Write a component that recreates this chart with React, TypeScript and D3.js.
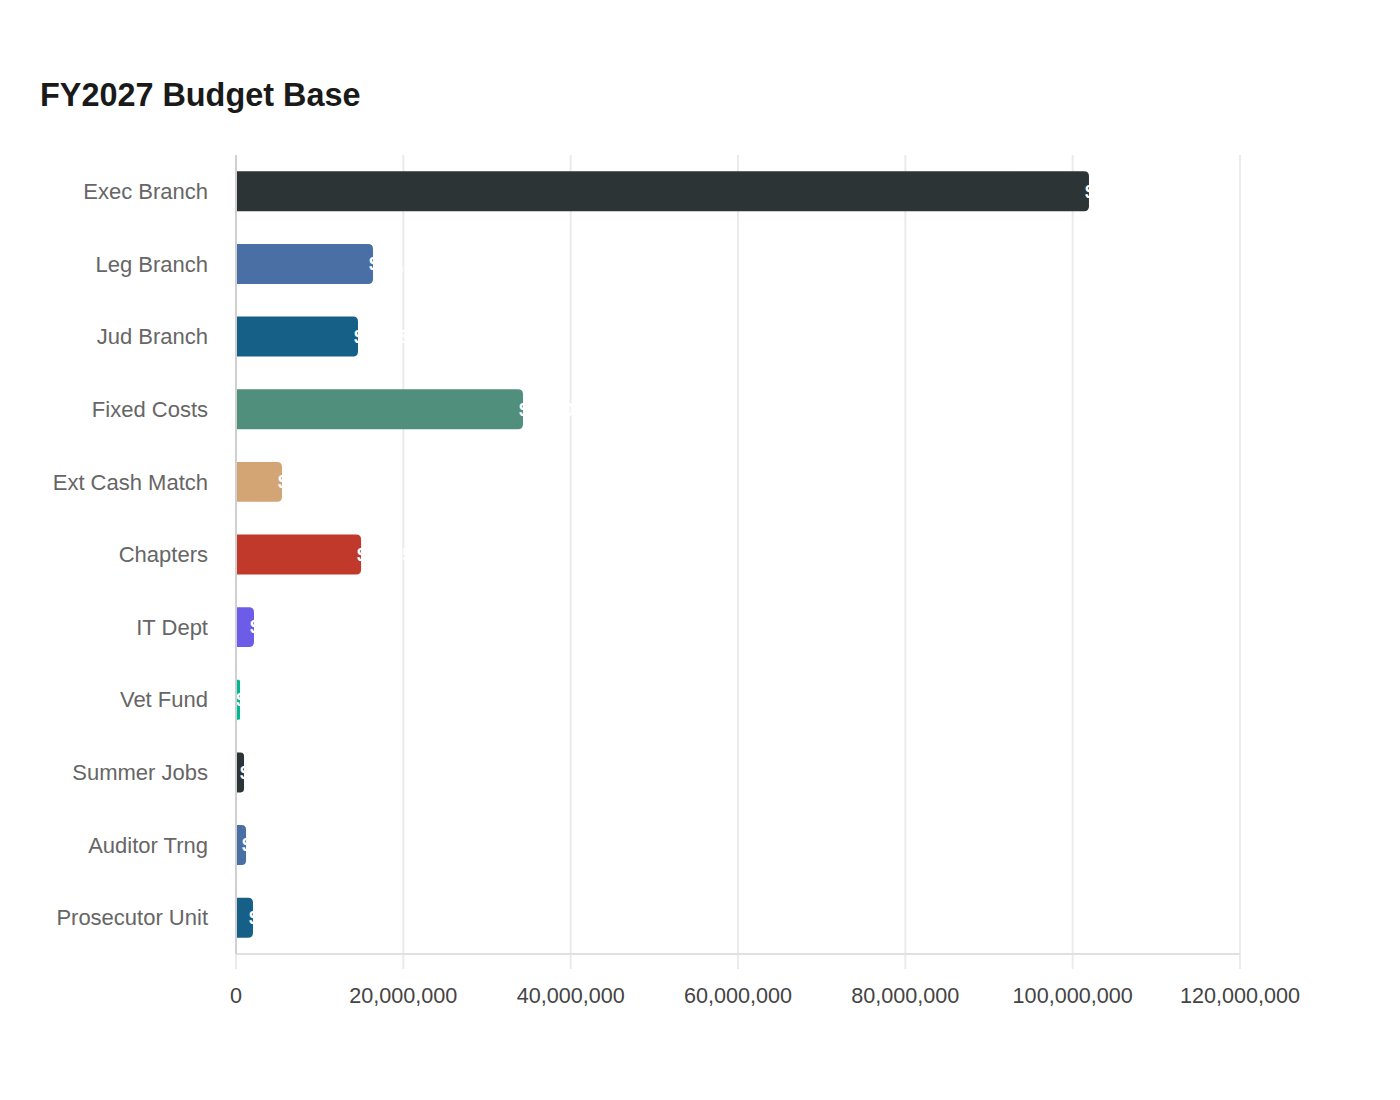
import * as d3 from "d3";
import React, { useEffect, useRef } from "react";

// budget lines, in dollars
const categories = [
  "Exec Branch",
  "Leg Branch",
  "Jud Branch",
  "Fixed Costs",
  "Ext Cash Match",
  "Chapters",
  "IT Dept",
  "Vet Fund",
  "Summer Jobs",
  "Auditor Trng",
  "Prosecutor Unit",
];
const amounts = [
  101950000, 16380000, 14580000, 34300000, 5500000, 14950000, 2150000, 480000,
  960000, 1200000, 2030000,
];
const palette = [
  "#2d3436",
  "#4a6fa5",
  "#166088",
  "#4f8f7c",
  "#d4a574",
  "#c0392b",
  "#6c5ce7",
  "#00b894",
];
const xTicks = [0, 20000000, 40000000, 60000000, 80000000, 100000000, 120000000];

const App = () => {
  const svgRef = useRef<SVGSVGElement>(null);

  useEffect(() => {
    const width = 1384;
    const height = 1084;
    const left = 228;
    const right = 1232;
    const top = 147;
    const bottom = 946;

    const svg = d3.select(svgRef.current).attr("width", width).attr("height", height);
    svg.selectAll("*").remove();

    const font = "'Liberation Sans', Arial, sans-serif";

    svg
      .append("text")
      .attr("x", 32)
      .attr("y", 98)
      .attr("font-family", font)
      .attr("font-size", 32.4)
      .attr("font-weight", "bold")
      .attr("fill", "#1a1a1a")
      .text("FY2027 Budget Base");

    const x = d3.scaleLinear().domain([0, 120000000]).range([left, right]);
    const y = d3.scaleBand().domain(categories).range([top, bottom]).paddingInner(0.45).paddingOuter(0.225);

    // vertical gridlines
    svg
      .append("g")
      .selectAll("line")
      .data(xTicks)
      .join("line")
      .attr("x1", (d) => x(d))
      .attr("x2", (d) => x(d))
      .attr("y1", top)
      .attr("y2", bottom + 15)
      .attr("stroke", "#ebebeb")
      .attr("stroke-width", 2);

    // bottom axis line
    svg
      .append("line")
      .attr("x1", left)
      .attr("x2", right)
      .attr("y1", bottom)
      .attr("y2", bottom)
      .attr("stroke", "#e0e0e0")
      .attr("stroke-width", 2);

    svg
      .append("g")
      .selectAll("text")
      .data(xTicks)
      .join("text")
      .attr("x", (d) => x(d))
      .attr("y", bottom + 49)
      .attr("text-anchor", "middle")
      .attr("font-family", font)
      .attr("font-size", 21.6)
      .attr("fill", "#444")
      .text((d) => d3.format(",")(d));

    // bars with rounded right end
    const r = 5;
    const barPath = (x0: number, x1: number, y0: number, h: number) => {
      const w = x1 - x0;
      const rr = Math.min(r, w / 2, h / 2);
      return `M${x0},${y0}H${x1 - rr}Q${x1},${y0} ${x1},${y0 + rr}V${y0 + h - rr}Q${x1},${y0 + h} ${x1 - rr},${y0 + h}H${x0}Z`;
    };

    const rows = categories.map((c, i) => ({ c, v: amounts[i], color: palette[i % palette.length] }));

    svg
      .append("g")
      .selectAll("path")
      .data(rows)
      .join("path")
      .attr("d", (d) => barPath(x(0) + 1, x(d.v), y(d.c)!, y.bandwidth()))
      .attr("fill", (d) => d.color);

    // value labels (white, mostly falls off the bar)
    svg
      .append("g")
      .selectAll("text")
      .data(rows)
      .join("text")
      .attr("x", (d) => x(d.v) - 4)
      .attr("y", (d) => y(d.c)! + y.bandwidth() / 2)
      .attr("dy", "0.35em")
      .attr("font-family", font)
      .attr("font-size", 18)
      .attr("font-weight", "bold")
      .attr("fill", "#fff")
      .text((d) => "$" + d3.format(",")(d.v));

    // category labels
    svg
      .append("g")
      .selectAll("text")
      .data(categories)
      .join("text")
      .attr("x", left - 28)
      .attr("y", (d) => y(d)! + y.bandwidth() / 2)
      .attr("dy", "0.35em")
      .attr("text-anchor", "end")
      .attr("font-family", font)
      .attr("font-size", 22)
      .attr("fill", "#666")
      .text((d) => d);

    // left axis line
    svg
      .append("line")
      .attr("x1", left)
      .attr("x2", left)
      .attr("y1", top)
      .attr("y2", bottom)
      .attr("stroke", "#d0d0d0")
      .attr("stroke-width", 2);
  }, []);

  return <svg ref={svgRef}></svg>;
};

export default App;
